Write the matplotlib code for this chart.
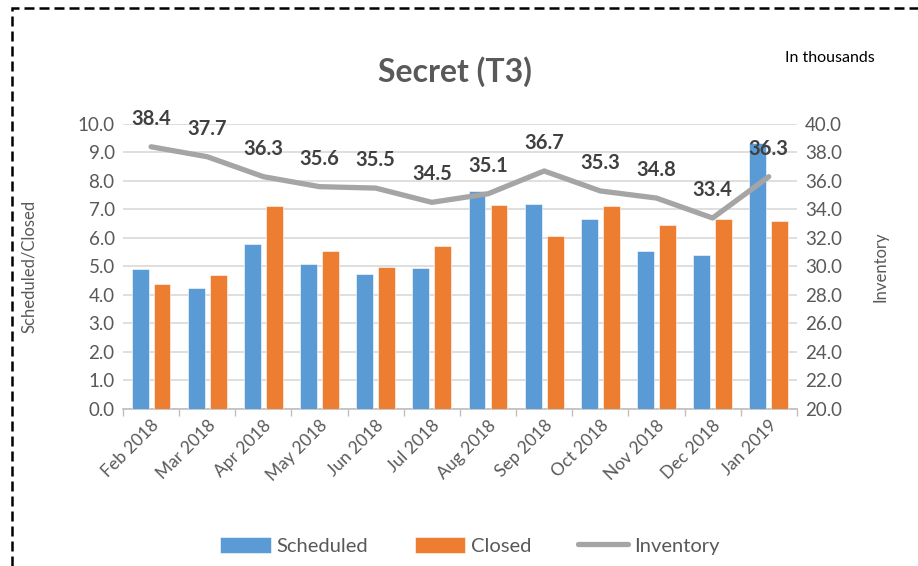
import matplotlib
matplotlib.use("Agg")
import matplotlib.pyplot as plt
import numpy as np
from matplotlib.patches import Rectangle

months = ["Feb 2018", "Mar 2018", "Apr 2018", "May 2018", "Jun 2018", "Jul 2018",
          "Aug 2018", "Sep 2018", "Oct 2018", "Nov 2018", "Dec 2018", "Jan 2019"]
scheduled = [4.90, 4.23, 5.79, 5.10, 4.74, 4.96, 7.66, 7.18, 6.67, 5.55, 5.40, 9.32]
closed = [4.37, 4.71, 7.13, 5.53, 4.98, 5.71, 7.17, 6.06, 7.12, 6.46, 6.67, 6.60]
inventory = [38.4, 37.7, 36.3, 35.6, 35.5, 34.5, 35.1, 36.7, 35.3, 34.8, 33.4, 36.3]

plt.rcParams['font.family'] = ['Lato', 'DejaVu Sans']
TXT = '#595959'
BLUE = '#5B9BD5'
ORANGE = '#ED7D31'
GREY = '#A5A5A5'

fig = plt.figure(figsize=(9.18, 5.66), dpi=100)
ax = fig.add_axes([0.134, 0.2774, 0.734, 0.5036])
ax2 = ax.twinx()

x = np.arange(len(months))
w = 0.30
off = 0.195
ax.bar(x - off, scheduled, width=w, color=BLUE, edgecolor='white', linewidth=0.4, zorder=3, label='Scheduled')
ax.bar(x + off, closed, width=w, color=ORANGE, edgecolor='white', linewidth=0.4, zorder=3, label='Closed')
ln, = ax2.plot(x, inventory, color=GREY, linewidth=3.8, solid_capstyle='round', zorder=4, label='Inventory')
for xi, v in zip(x, inventory):
    ax2.annotate(f"{v:.1f}", (xi, v), xytext=(0, 13), textcoords='offset points',
                 ha='center', va='bottom', fontsize=14.5, fontweight='bold', color='#404040')

ax.set_xlim(-0.5, len(months) - 0.5)
ax.set_ylim(0, 10)
ax2.set_ylim(20, 40)
ax.set_yticks(np.arange(0, 10.01, 1.0))
ax.set_yticklabels([f"{v:.1f}" for v in np.arange(0, 10.01, 1.0)])
ax2.set_yticks(np.arange(20, 40.01, 2.0))
ax2.set_yticklabels([f"{v:.1f}" for v in np.arange(20, 40.01, 2.0)])

ax.set_xticks(x)
ax.set_xticklabels(months, rotation=45, ha='right', rotation_mode='anchor', fontsize=12.5, color=TXT)
ax.tick_params(axis='x', length=0, pad=6)
ax.set_xticks(np.arange(-0.5, len(months), 1.0), minor=True)
ax.tick_params(axis='x', which='minor', length=5, color='#bfbfbf', width=1)

ax.tick_params(axis='y', length=0, labelsize=13.5, labelcolor=TXT, pad=6)
ax2.tick_params(axis='y', length=0, labelsize=13.5, labelcolor=TXT, pad=6)

ax.grid(axis='y', color='#d9d9d9', linewidth=1.2, zorder=0)
ax.set_axisbelow(True)
for a in (ax, ax2):
    for s in ['top', 'left', 'right']:
        a.spines[s].set_visible(False)
ax2.spines['bottom'].set_visible(False)
ax.spines['bottom'].set_color('#bfbfbf')
ax.spines['bottom'].set_linewidth(1.2)

ax.set_ylabel('Scheduled/Closed', fontsize=12, color=TXT)
ax.yaxis.set_label_coords(-0.128, 0.5)
ax2.set_ylabel('Inventory', fontsize=12, color=TXT)
ax2.yaxis.set_label_coords(1.113, 0.5)

fig.text(0.496, 0.873, 'Secret (T3)', ha='center', va='center', fontsize=23, fontweight='bold', color=TXT)
fig.text(0.904, 0.897, 'In thousands', ha='center', va='center', fontsize=11.5, color='black')

h1, l1 = ax.get_legend_handles_labels()
leg = fig.legend(h1 + [ln], l1 + ['Inventory'], loc='center', bbox_to_anchor=(0.512, 0.036),
                 ncol=3, frameon=False, fontsize=14.5, handlelength=2.5, handleheight=0.85,
                 columnspacing=2.3, handletextpad=0.3, labelcolor=TXT)

fig.patches.append(Rectangle((12/918, -0.05), 1.1, 1 - 8/566 + 0.05, transform=fig.transFigure,
                             fill=False, edgecolor='black', linestyle=(0, (4, 2)), linewidth=1.8))

fig.savefig('out.png', dpi=100)
